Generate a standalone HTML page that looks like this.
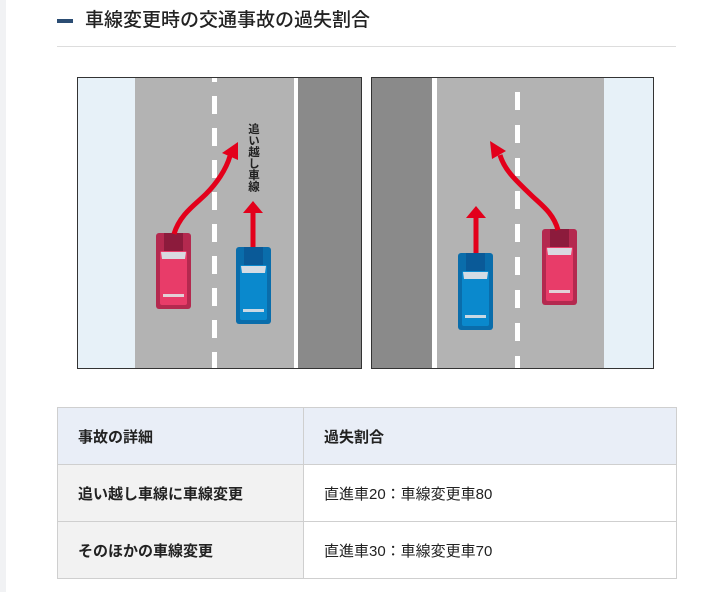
<!DOCTYPE html>
<html><head><meta charset="utf-8"><style>
html,body{margin:0;padding:0;width:723px;height:592px;background:#fff;overflow:hidden;font-family:"Liberation Sans","Noto Sans CJK JP",sans-serif;color:#222}
.strip{position:absolute;left:0;top:0;width:6px;height:592px;background:#f1f2f4}
.bar{position:absolute;left:57px;top:19px;width:16px;height:4px;background:#2b4d73}
.h{position:absolute;left:85px;top:7px;font-size:19px;line-height:28px;color:#222;font-weight:500}
.hr{position:absolute;left:57px;top:46px;width:619px;height:1px;background:#ddd}
svg{position:absolute;left:0;top:0}
table{position:absolute;left:57px;top:407px;width:620px;border-collapse:collapse;font-size:15px}
td{border:1px solid #cfcfcf;height:57px;padding:0 0 0 20px;box-sizing:border-box}
td.a{width:246px;font-weight:bold;background:#f2f2f2}
tr.hd td{background:#e9eef7}
</style></head><body>
<div class="strip"></div>
<div class="bar"></div>
<div class="h">車線変更時の交通事故の過失割合</div>
<div class="hr"></div>
<svg width="723" height="592" viewBox="0 0 723 592">
<defs>
<g id="rc">
<rect x="0" y="0" width="35" height="76" rx="3" fill="#b4294f"/>
<rect x="8" y="0" width="19" height="18" fill="#8c1b3c"/>
<rect x="4" y="18" width="27" height="54" rx="2" fill="#e83c69"/>
<path d="M5 19 L30 19 L29 26 L6 26 Z" fill="#d9d9e0"/>
<rect x="7" y="61" width="21" height="3" fill="#e2d0d6"/>
</g>
<g id="bc">
<rect x="0" y="0" width="35" height="77" rx="3" fill="#0a6dab"/>
<rect x="8" y="0" width="19" height="18" fill="#0a5a98"/>
<rect x="4" y="18" width="27" height="55" rx="2" fill="#0a89cd"/>
<path d="M5 19 L30 19 L29 26 L6 26 Z" fill="#d4dce4"/>
<rect x="7" y="62" width="21" height="3" fill="#c8d8e4"/>
</g>
</defs>
<rect x="77" y="77" width="285" height="292" fill="#b3b3b3"/>
<rect x="77" y="77" width="58" height="292" fill="#e7f1f8"/>
<rect x="294" y="77" width="4" height="292" fill="#fff"/>
<rect x="298" y="77" width="64" height="292" fill="#8a8a8a"/>
<line x1="214.5" y1="77" x2="214.5" y2="369" stroke="#fff" stroke-width="5" stroke-dasharray="18 14" stroke-dashoffset="13"/>
<rect x="77.5" y="77.5" width="284" height="291" fill="none" stroke="#333" stroke-width="1"/>
<use href="#rc" x="156" y="233"/>
<use href="#bc" x="236" y="247"/>
<path d="M174 234 C180 214 196 204 206 194 S226 170 230 156" fill="none" stroke="#e3001b" stroke-width="5"/>
<polygon points="238,142 222,153 238,160" fill="#e3001b"/>
<line x1="253" y1="247" x2="253" y2="212" stroke="#e3001b" stroke-width="5"/>
<polygon points="253,201 243,213 263,213" fill="#e3001b"/>
<text x="253" y="123" font-size="11.5" font-weight="bold" fill="#222" style="writing-mode:vertical-rl" font-family="Liberation Sans, Noto Sans CJK JP, sans-serif">追い越し車線</text>
<rect x="371" y="77" width="283" height="292" fill="#b3b3b3"/>
<rect x="371" y="77" width="61" height="292" fill="#8a8a8a"/>
<rect x="432" y="77" width="5" height="292" fill="#fff"/>
<rect x="604" y="77" width="50" height="292" fill="#e7f1f8"/>
<line x1="517.5" y1="77" x2="517.5" y2="369" stroke="#fff" stroke-width="5" stroke-dasharray="18 15" stroke-dashoffset="-15"/>
<rect x="371.5" y="77.5" width="282" height="291" fill="none" stroke="#333" stroke-width="1"/>
<use href="#bc" x="458" y="253"/>
<use href="#rc" x="542" y="229"/>
<path d="M558 230 C553 212 540 204 530 194 S505 172 500 155" fill="none" stroke="#e3001b" stroke-width="5"/>
<polygon points="490,141 492,159 506,151" fill="#e3001b"/>
<line x1="476" y1="253" x2="476" y2="217" stroke="#e3001b" stroke-width="5"/>
<polygon points="476,206 466,218 486,218" fill="#e3001b"/>
</svg>
<table>
<tr class="hd"><td class="a" style="background:#e9eef7">事故の詳細</td><td style="font-weight:bold">過失割合</td></tr>
<tr><td class="a">追い越し車線に車線変更</td><td>直進車20：車線変更車80</td></tr>
<tr><td class="a">そのほかの車線変更</td><td>直進車30：車線変更車70</td></tr>
</table>
</body></html>
